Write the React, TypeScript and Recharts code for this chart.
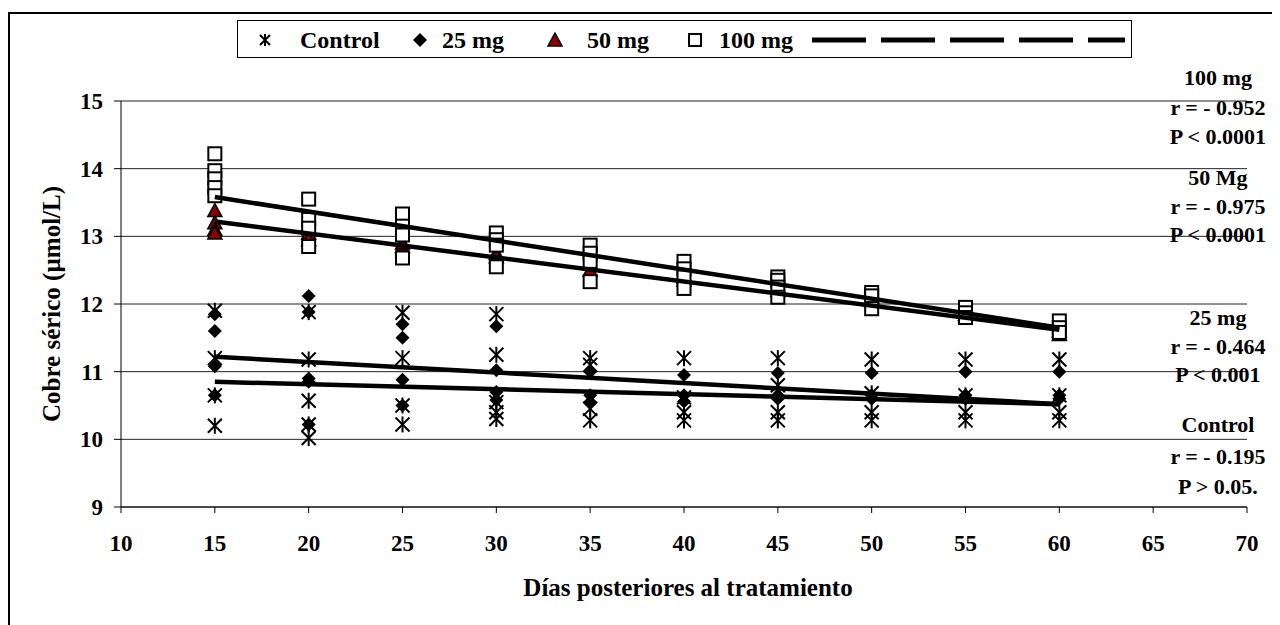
import React from "react";
import { ScatterChart, Scatter, XAxis, YAxis, CartesianGrid } from "recharts";

const days = [15, 20, 25, 30, 35, 40, 45, 50, 55, 60];

// valores leídos por día (µmol/L)
const controlValues = [
  [11.9, 11.2, 10.65, 10.2],
  [11.88, 11.18, 10.57, 10.22, 10.02],
  [11.87, 11.2, 10.5, 10.22],
  [11.85, 11.25, 10.55, 10.4, 10.3],
  [11.2, 11.1, 10.45, 10.28],
  [11.2, 10.62, 10.4, 10.28],
  [11.2, 10.8, 10.4, 10.28],
  [11.18, 10.68, 10.4, 10.28],
  [11.18, 10.65, 10.4, 10.28],
  [11.18, 10.65, 10.4, 10.28],
];

const dose25Values = [
  [11.85, 11.6, 11.08, 10.65],
  [12.12, 11.88, 10.9, 10.85, 10.22],
  [11.7, 11.5, 10.88, 10.5],
  [11.67, 11.02, 10.7, 10.58],
  [11.0, 10.65, 10.55],
  [10.95, 10.65, 10.56],
  [10.98, 10.65, 10.6],
  [10.98, 10.65, 10.6],
  [11.0, 10.65, 10.6],
  [11.0, 10.65, 10.6],
];

const dose50Values = [
  [13.38, 13.2, 13.1, 13.05],
  [13.05, 12.95],
  [12.85, 12.9],
  [12.75, 12.7],
  [12.5, 12.6],
  [12.4, 12.35],
  [12.25, 12.2],
  [12.05, 12.1],
  [11.85, 11.9],
  [11.6, 11.55],
];

const dose100Values = [
  [14.22, 13.97, 13.85, 13.72, 13.6],
  [13.55, 13.25, 13.12, 12.85],
  [13.33, 13.15, 13.02, 12.68],
  [13.05, 12.95, 12.87, 12.55],
  [12.87, 12.75, 12.63, 12.33],
  [12.63, 12.52, 12.4, 12.23],
  [12.4, 12.35, 12.25, 12.1],
  [12.17, 12.12, 11.93],
  [11.95, 11.87, 11.8],
  [11.75, 11.65, 11.58],
];

// rectas de regresión (extremos)
const trendDays = [15, 60];
const trend100 = [13.58, 11.65];
const trend50 = [13.22, 11.62];
const trend25 = [11.22, 10.52];
const trendControl = [10.85, 10.52];

const xTicks = [10, 15, 20, 25, 30, 35, 40, 45, 50, 55, 60, 65, 70];
const yTicks = [9, 10, 11, 12, 13, 14, 15];

const statLabels = [
  ["100 mg", "r = - 0.952", "P < 0.0001"],
  ["50 Mg", "r = - 0.975", "P < 0.0001"],
  ["25 mg", "r = - 0.464", "P < 0.001"],
  ["Control", "r = - 0.195", "P > 0.05."],
];
const statTops = [
  [70, 100, 129],
  [170, 199, 227],
  [310, 339, 367],
  [417, 449, 479],
];

const FONT = '"Liberation Serif", "Times New Roman", serif';

const toPoints = (vals: number[][]) =>
  days.flatMap((d, i) => vals[i].map((v) => ({ x: d, y: v })));
const toLine = (vals: number[]) => trendDays.map((d, i) => ({ x: d, y: vals[i] }));

const Asterisk = ({ cx, cy, s = 7 }: any) => (
  <g stroke="#000" strokeWidth={2}>
    <line x1={cx - s} y1={cy - s} x2={cx + s} y2={cy + s} />
    <line x1={cx - s} y1={cy + s} x2={cx + s} y2={cy - s} />
    <line x1={cx} y1={cy - s - 1} x2={cx} y2={cy + s + 1} />
  </g>
);
const Diamond = ({ cx, cy, s = 7 }: any) => (
  <polygon points={`${cx},${cy - s} ${cx + s},${cy} ${cx},${cy + s} ${cx - s},${cy}`} fill="#000" />
);
const Triangle = ({ cx, cy, s = 7 }: any) => (
  <polygon
    points={`${cx},${cy - s} ${cx + s},${cy + s - 1} ${cx - s},${cy + s - 1}`}
    fill="#8b0000"
    stroke="#000"
    strokeWidth={1.5}
  />
);
const Square = ({ cx, cy, s = 6.5 }: any) => (
  <rect x={cx - s} y={cy - s} width={2 * s} height={2 * s} fill="#fff" stroke="#000" strokeWidth={2} />
);
const NoDot = () => <g />;

const tickStyle = { fontFamily: FONT, fontWeight: "bold", fontSize: 23, fill: "#000" };

const LegendBox = () => (
  <svg
    width={895}
    height={38}
    style={{ position: "absolute", left: 229, top: 12 }}
  >
    <rect x={0.5} y={0.5} width={894} height={37} fill="#fff" stroke="#000" strokeWidth={1} />
    <g fontFamily={FONT} fontWeight="bold" fontSize={24} fill="#000">
      <Asterisk cx={28} cy={20} s={5} />
      <text x={63} y={28}>Control</text>
      <Diamond cx={183} cy={20} s={7} />
      <text x={205} y={28}>25 mg</text>
      <Triangle cx={318} cy={20} s={7} />
      <text x={350} y={28}>50 mg</text>
      <Square cx={458} cy={20} s={6} />
      <text x={482} y={28}>100 mg</text>
    </g>
    <line x1={575} y1={20} x2={888} y2={20} stroke="#000" strokeWidth={5} strokeDasharray="54 15" />
  </svg>
);

export default function App() {
  return (
    <div style={{ position: "relative", width: 1272, height: 617, overflow: "hidden", background: "#fff" }}>
      <div
        style={{
          position: "absolute",
          left: 0,
          top: 4,
          width: 1400,
          height: 800,
          border: "2px solid #000",
          boxSizing: "border-box",
        }}
      />
      <div style={{ position: "absolute", left: 0, top: 0 }}>
        <ScatterChart width={1272} height={617} margin={{ top: 93, right: 33, left: 0, bottom: 0 }}>
          <CartesianGrid vertical={false} stroke="#222" strokeWidth={1} />
          <XAxis
            type="number"
            dataKey="x"
            domain={[10, 70]}
            ticks={xTicks}
            interval={0}
            height={118}
            tickSize={6}
            tickMargin={22}
            stroke="#000"
            tick={tickStyle}
            label={{
              content: ({ viewBox }: any) => (
                <text
                  x={viewBox.x + viewBox.width / 2 + 4}
                  y={viewBox.y + 80}
                  textAnchor="middle"
                  dominantBaseline="central"
                  fontFamily={FONT}
                  fontWeight="bold"
                  fontSize={25}
                  fill="#000"
                >
                  Días posteriores al tratamiento
                </text>
              ),
            }}
          />
          <YAxis
            type="number"
            dataKey="y"
            domain={[9, 15]}
            ticks={yTicks}
            interval={0}
            width={113}
            tickSize={7}
            tickMargin={11}
            stroke="#000"
            tick={tickStyle}
            label={{
              content: ({ viewBox }: any) => {
                const cx = viewBox.x + 43;
                const cy = viewBox.y + viewBox.height / 2;
                return (
                  <text
                    x={cx}
                    y={cy}
                    transform={`rotate(-90 ${cx} ${cy})`}
                    textAnchor="middle"
                    dominantBaseline="central"
                    fontFamily={FONT}
                    fontWeight="bold"
                    fontSize={25}
                    fill="#000"
                  >
                    Cobre sérico (µmol/L)
                  </text>
                );
              },
            }}
          />
          <Scatter name="Control" data={toPoints(controlValues)} shape={Asterisk} isAnimationActive={false} />
          <Scatter name="25 mg" data={toPoints(dose25Values)} shape={Diamond} isAnimationActive={false} />
          <Scatter name="50 mg" data={toPoints(dose50Values)} shape={Triangle} isAnimationActive={false} />
          <Scatter name="100 mg" data={toPoints(dose100Values)} shape={Square} isAnimationActive={false} />
          <Scatter data={toLine(trend100)} line={{ stroke: "#000", strokeWidth: 4.5 }} shape={NoDot} isAnimationActive={false} />
          <Scatter data={toLine(trend50)} line={{ stroke: "#000", strokeWidth: 4.5 }} shape={NoDot} isAnimationActive={false} />
          <Scatter data={toLine(trend25)} line={{ stroke: "#000", strokeWidth: 4.5 }} shape={NoDot} isAnimationActive={false} />
          <Scatter data={toLine(trendControl)} line={{ stroke: "#000", strokeWidth: 4.5 }} shape={NoDot} isAnimationActive={false} />
        </ScatterChart>
      </div>
      <LegendBox />
      {statLabels.map((group, gi) =>
        group.map((txt, li) => (
          <div
            key={`${gi}-${li}`}
            style={{
              position: "absolute",
              left: 1210 - 80,
              width: 160,
              top: statTops[gi][li] - 13,
              height: 26,
              lineHeight: "26px",
              textAlign: "center",
              fontFamily: FONT,
              fontWeight: "bold",
              fontSize: 22,
              color: "#000",
              whiteSpace: "nowrap",
            }}
          >
            {txt}
          </div>
        ))
      )}
    </div>
  );
}
